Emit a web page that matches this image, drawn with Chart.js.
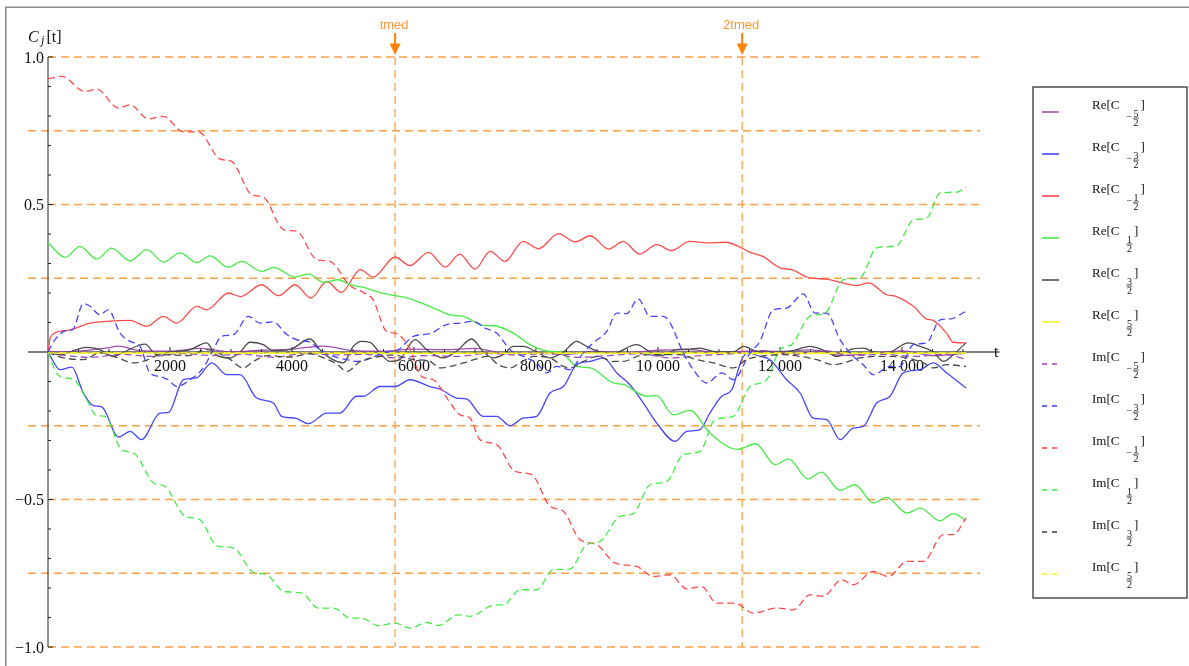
<!DOCTYPE html>
<html>
<head>
<meta charset="utf-8">
<script src="https://cdn.jsdelivr.net/npm/chart.js@4.4.1/dist/chart.umd.min.js"></script>
<style>
  html, body { margin: 0; padding: 0; background: #fff; }
  #wrap { width: 1189px; height: 666px; }
</style>
</head>
<body>
<div id="wrap"><canvas id="cjChart" width="1189" height="666"></canvas></div>
<script>
// axis ranges and ticks
const xMin = -328, xMax = 15279;
const xTickValues = [2000, 4000, 6000, 8000, 10000, 12000, 14000];
const xTickLabels = ['2000', '4000', '6000', '8000', '10 000', '12 000', '14 000'];
const xMinorStep = 500, xAxisEnd = 15600;
const yTickValues = [-1, -0.5, 0.5, 1];
const yTickLabels = ['\u22121.0', '\u22120.5', '0.5', '1.0'];
const yMinorStep = 0.1;
const gridYValues = [-1, -0.75, -0.5, -0.25, 0.25, 0.5, 0.75, 1];
const markerTimes = [5690, 11380];
const markerLabels = ['tmed', '2tmed'];

// legend: Re/Im of C_j, j = n/2
const partNames = ['Re', 'Re', 'Re', 'Re', 'Re', 'Re', 'Im', 'Im', 'Im', 'Im', 'Im', 'Im'];
const jNumerators = [-5, -3, -1, 1, 3, 5, -5, -3, -1, 1, 3, 5];

// series, [t, value]
const reCm52 = [[0,0],[500,0.003],[1000,0.015],[1150,0.02],[1500,0.005],[2000,0.003],[2500,0.012],[3000,0.0],[3500,0.006],[4000,0.01],[4500,0.02],[5000,0.005],[5500,0.003],[6000,0.01],[6500,0.008],[7000,0.012],[7500,-0.005],[8000,-0.003],[8500,-0.008],[9000,0.002],[9500,-0.003],[10000,0.006],[10500,0.008],[11000,-0.002],[11500,0.003],[12000,0.002],[12500,0.007],[13000,-0.012],[13500,-0.005],[14000,0.004],[14500,-0.012],[15050,-0.005]];
const reCm32 = [[0,0],[200,-0.06],[390,-0.051],[580,-0.139],[745,-0.182],[880,-0.186],[1155,-0.288],[1345,-0.269],[1535,-0.297],[1835,-0.207],[1975,-0.205],[2220,-0.094],[2435,-0.088],[2685,-0.037],[2930,-0.077],[3150,-0.077],[3420,-0.156],[3695,-0.173],[3830,-0.218],[4050,-0.224],[4270,-0.243],[4570,-0.207],[4785,-0.207],[5060,-0.15],[5170,-0.15],[5445,-0.117],[5690,-0.117],[5935,-0.094],[6260,-0.117],[6450,-0.128],[6700,-0.156],[6860,-0.159],[7135,-0.218],[7355,-0.218],[7575,-0.25],[7790,-0.224],[8010,-0.218],[8230,-0.139],[8450,-0.117],[8665,-0.043],[8885,-0.032],[9105,-0.02],[9325,-0.071],[9540,-0.111],[9760,-0.173],[9980,-0.241],[10280,-0.303],[10470,-0.269],[10690,-0.263],[10850,-0.207],[11045,-0.15],[11210,-0.128],[11370,-0.026],[11480,-0.003],[11670,-0.015],[11835,-0.026],[12110,-0.094],[12330,-0.139],[12545,-0.224],[12765,-0.229],[12985,-0.297],[13200,-0.258],[13365,-0.252],[13585,-0.173],[13805,-0.15],[14020,-0.071],[14295,-0.06],[14515,-0.037],[14735,-0.071],[15050,-0.122]];
const reCm12 = [[0,0],[40,0.05],[200,0.07],[360,0.075],[690,0.098],[960,0.104],[1340,0.107],[1620,0.087],[1890,0.121],[2110,0.098],[2440,0.155],[2600,0.143],[2960,0.2],[3150,0.188],[3500,0.228],[3780,0.191],[4050,0.228],[4310,0.183],[4570,0.239],[4810,0.202],[5120,0.279],[5330,0.254],[5690,0.322],[5930,0.293],[6240,0.338],[6510,0.288],[6750,0.332],[7000,0.281],[7250,0.341],[7490,0.307],[7790,0.375],[8040,0.35],[8370,0.401],[8640,0.373],[8890,0.394],[9190,0.349],[9430,0.375],[9700,0.332],[9980,0.364],[10220,0.344],[10520,0.375],[10800,0.37],[11120,0.372],[11300,0.36],[11510,0.338],[11720,0.324],[12000,0.285],[12190,0.279],[12490,0.251],[12760,0.247],[13090,0.231],[13250,0.225],[13450,0.234],[13750,0.194],[13910,0.188],[14190,0.155],[14400,0.112],[14510,0.107],[14730,0.064],[14840,0.033],[15050,0.031]];
const reC12 = [[0,0.37],[280,0.321],[525,0.358],[800,0.315],[1045,0.352],[1345,0.309],[1620,0.347],[1890,0.305],[2165,0.336],[2440,0.303],[2655,0.326],[2955,0.287],[3175,0.307],[3505,0.273],[3695,0.287],[4050,0.254],[4270,0.265],[4515,0.236],[4760,0.245],[4950,0.228],[5170,0.219],[5390,0.205],[5690,0.191],[5850,0.185],[6260,0.155],[6590,0.126],[6810,0.121],[7140,0.09],[7300,0.089],[7630,0.064],[7900,0.025],[8230,0.002],[8400,0.0],[8670,-0.049],[8890,-0.054],[9270,-0.105],[9430,-0.11],[9815,-0.15],[9980,-0.148],[10250,-0.213],[10525,-0.198],[10850,-0.275],[11300,-0.33],[11600,-0.311],[11920,-0.382],[12140,-0.362],[12460,-0.43],[12680,-0.407],[12980,-0.469],[13230,-0.45],[13530,-0.512],[13750,-0.493],[14080,-0.546],[14300,-0.529],[14620,-0.572],[14840,-0.548],[15050,-0.571]];
const reC32 = [[0,0],[200,-0.01],[400,0.003],[635,0.016],[850,0.008],[1070,-0.015],[1200,-0.005],[1590,0.027],[1780,-0.009],[2000,0.0],[2330,0.008],[2600,0.031],[2750,-0.009],[2985,-0.02],[3150,0.0],[3310,0.033],[3530,0.025],[3690,0.005],[3960,0.008],[4295,0.044],[4460,0.008],[4620,-0.02],[4840,-0.037],[5005,0.019],[5140,0.036],[5280,0.033],[5440,-0.003],[5605,-0.032],[5770,-0.025],[6015,0.042],[6210,0.008],[6480,-0.02],[6700,0.003],[6945,0.044],[7140,0.0],[7300,-0.02],[7460,-0.009],[7630,0.019],[7790,0.019],[8010,0.0],[8230,-0.02],[8450,0.0],[8665,0.036],[8830,0.019],[9050,0.0],[9270,-0.004],[9650,0.025],[9870,0.0],[10030,-0.013],[10300,0.008],[10520,0.01],[10690,0.013],[10910,0.002],[11230,0.0],[11400,0.019],[11620,0.002],[11780,0.0],[12110,0.0],[12490,0.019],[12760,0.002],[12930,-0.015],[13150,0.008],[13370,0.013],[13530,0.0],[13750,-0.004],[14105,0.031],[14295,0.019],[14515,0.0],[14680,-0.032],[14840,-0.009],[15050,0.031]];
const reC52 = [[0,-0.004],[3000,-0.004],[6000,-0.005],[9000,-0.004],[12000,-0.005],[15050,-0.004]];
const imCm52 = [[0,0],[300,-0.012],[700,-0.018],[1200,-0.008],[1700,-0.015],[2200,-0.005],[2700,-0.012],[3200,-0.008],[3700,-0.018],[4200,-0.005],[4700,-0.01],[5200,-0.008],[5700,-0.02],[6200,-0.012],[6700,-0.015],[7200,-0.005],[7700,-0.01],[8200,-0.005],[8700,-0.018],[9200,-0.012],[9700,-0.006],[10200,-0.02],[10700,-0.012],[11200,-0.006],[11700,0.005],[12200,-0.008],[12700,0.005],[13200,-0.012],[13700,-0.008],[14200,-0.015],[14700,-0.008],[15050,-0.025]];
const imCm32 = [[0,0],[115,0.042],[305,0.073],[400,0.075],[580,0.164],[690,0.155],[850,0.126],[990,0.143],[1180,0.064],[1345,0.036],[1510,0.019],[1670,-0.071],[1835,-0.083],[1970,-0.094],[2110,-0.117],[2330,-0.094],[2545,-0.054],[2710,0.008],[2845,0.053],[3040,0.059],[3285,0.121],[3475,0.098],[3695,0.102],[3915,0.059],[4075,0.042],[4295,0.033],[4460,0.008],[4680,-0.015],[4895,-0.026],[5060,-0.032],[5225,-0.026],[5495,-0.003],[5745,0.008],[5990,0.053],[6260,0.062],[6535,0.093],[6755,0.098],[6975,0.104],[7165,0.081],[7355,0.064],[7575,0.008],[7790,-0.015],[8010,-0.037],[8175,-0.071],[8340,-0.049],[8555,-0.06],[8775,-0.003],[8940,0.031],[9160,0.07],[9325,0.132],[9485,0.13],[9675,0.18],[9870,0.121],[10090,0.121],[10200,0.098],[10415,-0.003],[10580,-0.06],[10800,-0.105],[11045,-0.071],[11235,-0.094],[11510,-0.003],[11670,0.036],[11890,0.143],[12110,0.149],[12380,0.197],[12575,0.132],[12765,0.132],[12985,0.042],[13200,-0.015],[13365,-0.043],[13530,-0.077],[13805,-0.049],[13960,-0.05],[14185,0.025],[14405,0.031],[14625,0.109],[14790,0.112],[15050,0.138]];
const imCm12 = [[0,0.926],[225,0.934],[605,0.883],[800,0.891],[1155,0.827],[1345,0.838],[1645,0.79],[1890,0.799],[2220,0.746],[2465,0.746],[2820,0.654],[3010,0.646],[3340,0.533],[3530,0.525],[3860,0.415],[4080,0.409],[4405,0.313],[4625,0.307],[4950,0.225],[5170,0.202],[5330,0.177],[5550,0.07],[5690,0.064],[5910,0.019],[6125,-0.083],[6315,-0.094],[6560,-0.162],[6755,-0.213],[6920,-0.224],[7080,-0.297],[7355,-0.314],[7655,-0.405],[7930,-0.416],[8230,-0.523],[8450,-0.54],[8720,-0.636],[8995,-0.653],[9295,-0.715],[9650,-0.727],[9925,-0.761],[10200,-0.755],[10470,-0.803],[10715,-0.795],[10960,-0.851],[11260,-0.851],[11565,-0.885],[11945,-0.868],[12220,-0.874],[12490,-0.823],[12710,-0.828],[13010,-0.772],[13200,-0.789],[13530,-0.744],[13775,-0.761],[14080,-0.71],[14350,-0.71],[14680,-0.619],[14840,-0.619],[15050,-0.563]];
const imC12 = [[0,0],[140,-0.071],[280,-0.088],[415,-0.092],[635,-0.162],[800,-0.216],[935,-0.218],[1200,-0.33],[1420,-0.345],[1730,-0.444],[1920,-0.456],[2245,-0.557],[2490,-0.568],[2765,-0.657],[3040,-0.664],[3365,-0.747],[3585,-0.755],[3860,-0.811],[4160,-0.817],[4430,-0.868],[4680,-0.868],[4950,-0.902],[5140,-0.902],[5415,-0.928],[5690,-0.919],[5935,-0.936],[6210,-0.917],[6400,-0.927],[6725,-0.891],[6920,-0.896],[7330,-0.857],[7465,-0.857],[7740,-0.806],[8010,-0.806],[8285,-0.738],[8555,-0.736],[8830,-0.653],[9050,-0.642],[9375,-0.557],[9595,-0.548],[9870,-0.45],[10140,-0.439],[10415,-0.348],[10690,-0.337],[10935,-0.229],[11235,-0.218],[11510,-0.117],[11780,-0.094],[12000,0.008],[12190,0.025],[12490,0.121],[12740,0.132],[13040,0.245],[13310,0.251],[13585,0.353],[13910,0.36],[14185,0.448],[14405,0.454],[14625,0.539],[14900,0.542],[15050,0.559]];
const imC32 = [[0,0],[200,-0.017],[580,-0.026],[850,-0.003],[1150,-0.02],[1400,-0.037],[1590,-0.03],[1850,-0.009],[2300,-0.012],[2600,0.008],[2950,-0.02],[3200,-0.054],[3370,-0.032],[3600,-0.012],[3950,-0.017],[4300,-0.006],[4520,-0.02],[4730,-0.04],[4900,-0.066],[5120,-0.032],[5390,-0.017],[5660,-0.01],[5940,-0.024],[6260,-0.032],[6430,-0.054],[6590,-0.049],[6810,-0.037],[6980,-0.026],[7200,-0.015],[7380,-0.043],[7575,-0.054],[7740,-0.037],[7960,-0.015],[8230,-0.02],[8450,-0.049],[8560,-0.054],[8780,-0.032],[9000,-0.015],[9270,-0.032],[9430,-0.032],[9700,-0.012],[9980,-0.009],[10360,-0.009],[10630,-0.026],[10910,-0.037],[11235,-0.054],[11450,-0.026],[11670,-0.015],[12050,-0.009],[12330,-0.015],[12600,-0.026],[12875,-0.043],[13040,-0.037],[13310,-0.02],[13580,-0.015],[13860,-0.015],[14080,-0.02],[14350,-0.037],[14515,-0.054],[14735,-0.043],[15050,-0.049]];
const imC52 = [[0,-0.003],[4000,-0.003],[8000,-0.004],[12000,-0.003],[15050,-0.003]];

const seriesData = [reCm52, reCm32, reCm12, reC12, reC32, reC52, imCm52, imCm32, imCm12, imC12, imC32, imC52];
const seriesColors = ['rgba(150,60,170,0.9)', 'rgb(70,70,255)', 'rgb(255,75,75)', 'rgb(70,235,70)', 'rgb(75,75,75)', 'rgb(245,245,40)'];

const orange = 'rgb(255,160,70)';
const serif = '"Liberation Serif", "DejaVu Serif", serif';

const datasets = seriesData.map((pts, i) => ({
  label: partNames[i] + '[C' + jNumerators[i] + '/2]',
  data: pts.map(p => ({ x: p[0], y: p[1] })),
  borderColor: seriesColors[i % 6],
  borderWidth: 1.3,
  borderDash: i < 6 ? [] : [7, 4],
  pointRadius: 0,
  cubicInterpolationMode: 'monotone',
  fill: false,
  order: 11 - i
}));

// grid, axes, ticks and markers (drawn under the curves)
const axesPlugin = {
  id: 'mmaAxes',
  beforeDraw(chart) {
    const c = chart.ctx;
    c.save();
    c.fillStyle = '#fff';
    c.fillRect(0, 0, chart.width, chart.height);
    c.restore();
  },
  beforeDatasetsDraw(chart) {
    const c = chart.ctx, xs = chart.scales.x, ys = chart.scales.y, area = chart.chartArea;
    const x0 = xs.getPixelForValue(0), y0 = ys.getPixelForValue(0);
    c.save();
    // orange grid
    c.strokeStyle = orange;
    c.lineWidth = 1.3;
    c.setLineDash([8, 5]);
    gridYValues.forEach(v => {
      const y = ys.getPixelForValue(v);
      const start = yTickValues.includes(v) ? x0 : area.left;
      c.beginPath(); c.moveTo(start, y); c.lineTo(area.right, y); c.stroke();
    });
    markerTimes.forEach(t => {
      const x = xs.getPixelForValue(t);
      c.beginPath(); c.moveTo(x, ys.getPixelForValue(1)); c.lineTo(x, ys.getPixelForValue(-1)); c.stroke();
    });
    c.setLineDash([]);
    // axes
    c.strokeStyle = '#000';
    c.lineWidth = 1.2;
    c.beginPath(); c.moveTo(area.left, y0); c.lineTo(xs.getPixelForValue(xAxisEnd), y0); c.stroke();
    c.lineWidth = 1;
    c.strokeStyle = '#222';
    c.beginPath(); c.moveTo(x0, ys.getPixelForValue(1)); c.lineTo(x0, ys.getPixelForValue(-1)); c.stroke();
    // x ticks
    for (let t = xMinorStep; t <= 15000; t += xMinorStep) {
      const x = xs.getPixelForValue(t);
      const len = xTickValues.includes(t) ? 5 : 3;
      c.beginPath(); c.moveTo(x, y0); c.lineTo(x, y0 - len); c.stroke();
    }
    // y ticks
    for (let k = -10; k <= 10; k++) {
      if (k === 0) continue;
      const v = k * yMinorStep;
      const y = ys.getPixelForValue(v);
      const len = (k % 5 === 0) ? 5 : 3;
      c.beginPath(); c.moveTo(x0, y); c.lineTo(x0 + len, y); c.stroke();
    }
    // tick labels
    c.fillStyle = '#111';
    c.font = '16px ' + serif;
    c.textAlign = 'center';
    c.textBaseline = 'alphabetic';
    xTickValues.forEach((t, i) => {
      c.fillText(xTickLabels[i], xs.getPixelForValue(t), y0 + 18.5);
    });
    c.textAlign = 'right';
    yTickValues.forEach((v, i) => {
      c.fillText(yTickLabels[i], x0 - 4, ys.getPixelForValue(v) + 5.5);
    });
    // axis labels
    c.textAlign = 'left';
    c.fillText('t', 994, y0 + 5);
    c.font = 'italic 16px ' + serif;
    c.fillText('C', 28, 41.5);
    c.font = 'italic 12px ' + serif;
    c.fillText('j', 41, 43.5);
    c.font = '16px ' + serif;
    c.fillText('[t]', 46.5, 41.5);
    // marker arrows
    markerTimes.forEach((t, i) => {
      const x = xs.getPixelForValue(t);
      c.fillStyle = 'rgb(255,150,50)';
      c.font = '13px "Liberation Sans", Arial, sans-serif';
      c.textAlign = 'center';
      c.fillText(markerLabels[i], x - 1, 29);
      c.strokeStyle = 'rgb(255,130,10)';
      c.fillStyle = 'rgb(255,130,10)';
      c.lineWidth = 2;
      c.beginPath(); c.moveTo(x, 33); c.lineTo(x, 46); c.stroke();
      c.beginPath(); c.moveTo(x - 5.5, 43.5); c.lineTo(x + 5.5, 43.5); c.lineTo(x, 55); c.closePath(); c.fill();
    });
    c.restore();
  },
  afterDraw(chart) {
    const c = chart.ctx;
    c.save();
    // outer frame
    c.strokeStyle = '#8a8a8a';
    c.lineWidth = 1.6;
    c.beginPath(); c.moveTo(5.8, 666); c.lineTo(5.8, 7.3); c.lineTo(1189, 7.3); c.stroke();
    // legend box
    c.strokeStyle = '#444';
    c.lineWidth = 1.4;
    c.strokeRect(1033, 87, 154, 511);
    chart.data.datasets.forEach((ds, i) => {
      const y = 112 + i * 42;
      c.strokeStyle = ds.borderColor;
      c.lineWidth = 1.6;
      c.setLineDash(i < 6 ? [] : [5, 5]);
      c.beginPath(); c.moveTo(1042, y); c.lineTo(1059, y); c.stroke();
      c.setLineDash([]);
      c.fillStyle = '#111';
      c.textAlign = 'left';
      const base = y - 3.5;
      let x = 1092;
      const head = partNames[i] + '[C';
      c.font = '13px ' + serif;
      c.fillText(head, x, base);
      x += c.measureText(head).width + 7;
      c.font = '10px ' + serif;
      const n = jNumerators[i];
      if (n < 0) {
        c.fillText('\u2212', x, base + 11.8);
        x += c.measureText('\u2212').width + 0.8;
      }
      const num = String(Math.abs(n));
      const fw = c.measureText(num).width;
      c.textAlign = 'center';
      c.fillText(num, x + fw / 2 + 0.5, base + 8);
      c.fillRect(x, base + 9.2, fw + 1, 0.7);
      c.fillText('2', x + fw / 2 + 0.5, base + 17.5);
      x += fw + 2.5;
      c.textAlign = 'left';
      c.font = '13px ' + serif;
      c.fillText(']', x, base);
    });
    c.restore();
  }
};

new Chart(document.getElementById('cjChart'), {
  type: 'line',
  data: { datasets: datasets },
  options: {
    responsive: false,
    animation: false,
    devicePixelRatio: 1,
    layout: { padding: { left: 28, right: 209, top: 57, bottom: 19 } },
    scales: {
      x: { type: 'linear', min: xMin, max: xMax, display: false },
      y: { type: 'linear', min: -1, max: 1, display: false }
    },
    plugins: { legend: { display: false }, tooltip: { enabled: false } }
  },
  plugins: [axesPlugin]
});
</script>
</body>
</html>
